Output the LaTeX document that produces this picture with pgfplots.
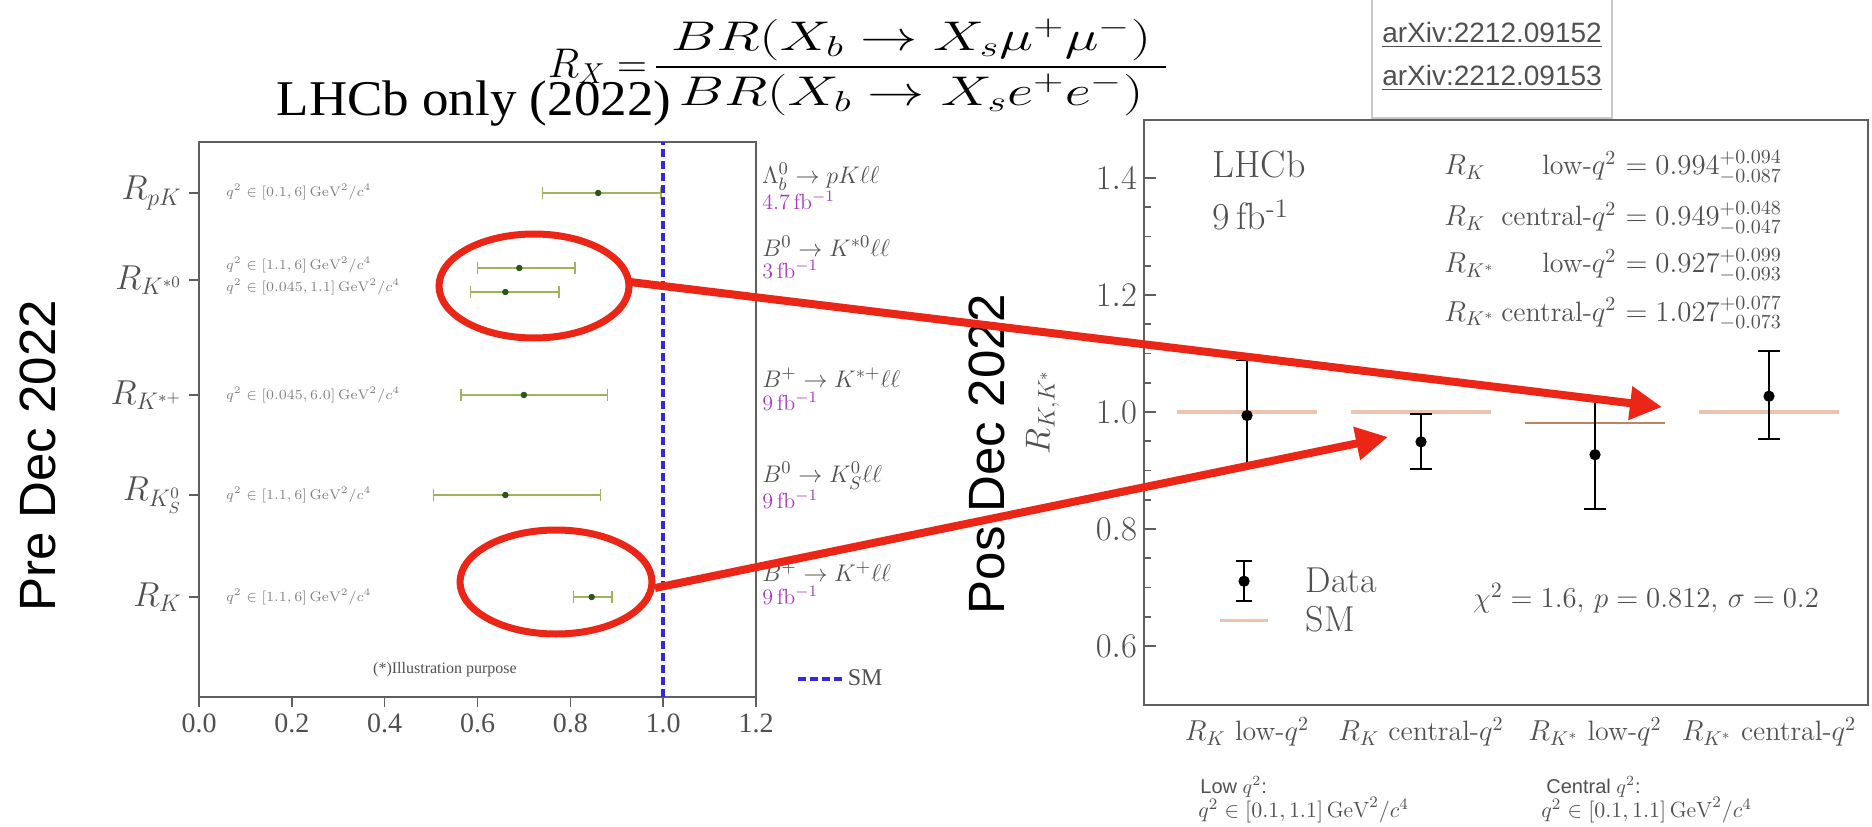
\documentclass[border=0pt]{standalone}
\usepackage{amsmath}
\usepackage{graphicx}
\usepackage{pgfplots}
\pgfplotsset{compat=1.18}
\usepackage{fontspec}
\newfontfamily\timesf{Liberation Serif}
\newfontfamily\sansf{Liberation Sans}
\usetikzlibrary{arrows.meta}
\definecolor{olivebar}{RGB}{160,178,90}
\definecolor{dkgreen}{RGB}{45,85,25}
\definecolor{smblue}{RGB}{50,40,220}
\definecolor{arrred}{RGB}{236,38,22}
\definecolor{smorange}{RGB}{234,196,172}
\definecolor{smdark}{RGB}{185,135,100}
\definecolor{purp}{RGB}{165,60,190}
\definecolor{axgray}{RGB}{95,95,95}
\definecolor{labgray}{RGB}{80,80,80}
\definecolor{boxgray}{RGB}{200,200,200}
\begin{document}
\begin{tikzpicture}[x=0.5pt,y=0.5pt]
\useasboundingbox (0,0) rectangle (1872,826);

% ---------------- left plot ----------------
\begin{axis}[
  at={(99.5pt,64.5pt)}, anchor=south west, scale only axis,
  width=278.5pt, height=277.5pt,
  xmin=0, xmax=1.2, ymin=0, ymax=5.55,
  clip=false,
  axis line style={draw=axgray, line width=1pt},
  xtick={0,0.2,0.4,0.6,0.8,1.0,1.2},
  /pgf/number format/fixed, /pgf/number format/fixed zerofill,
  /pgf/number format/precision=1, /pgf/number format/assume math mode=true,
  xticklabel style={font=\timesf\fontsize{14}{16}\selectfont, text=labgray},
  ytick={1.0,2.02,3.02,4.17,5.04},
  yticklabels={$R_K$,$R_{K_S^0}$,$R_{K^{*+}}$,$R_{K^{*0}}$,$R_{pK}$},
  yticklabel style={font=\fontsize{17}{20}\selectfont, text=labgray},
  tick align=outside, xtick pos=bottom, ytick pos=left,
  major tick length=5pt,
  tick style={draw=axgray, line width=0.8pt},
  legend style={at={(rel axis cs:1.06,0.032)}, anchor=west, draw=none, fill=none,
    font=\timesf\fontsize{12}{14}\selectfont, text=labgray},
  legend image code/.code={\draw[#1] (0pt,0pt) -- (22pt,0pt);},
]
\addplot[forget plot, only marks, mark=*, mark size=1.4pt, mark options={fill=dkgreen, draw=dkgreen},
  error bars/.cd, x dir=both, x explicit, error mark=|,
  error bar style={olivebar, line width=1pt},
  error mark options={olivebar, line width=0.8pt, mark size=3pt}]
  table[x=x, y=y, x error plus=ep, x error minus=em] {
x     y     ep     em
0.86  5.04  0.135  0.12
0.69  4.29  0.12   0.09
0.66  4.05  0.115  0.075
0.70  3.02  0.18   0.135
0.66  2.02  0.205  0.155
0.846 1.00  0.044  0.039
};
\addplot[smblue, line width=2pt, dash pattern=on 4pt off 2pt] coordinates {(1,0) (1,5.55)};
\addlegendentry{SM}
\end{axis}

% annotations in the left plot
\begin{scope}[every node/.style={anchor=west, text=gray, font=\fontsize{7}{8}\selectfont}]
\node at (219,634) {$q^2\in[0.1,6]\,\mathrm{GeV}^2/c^4$};
\node at (219,561) {$q^2\in[1.1,6]\,\mathrm{GeV}^2/c^4$};
\node at (219,539) {$q^2\in[0.045,1.1]\,\mathrm{GeV}^2/c^4$};
\node at (219,431) {$q^2\in[0.045,6.0]\,\mathrm{GeV}^2/c^4$};
\node at (219,331) {$q^2\in[1.1,6]\,\mathrm{GeV}^2/c^4$};
\node at (219,229) {$q^2\in[1.1,6]\,\mathrm{GeV}^2/c^4$};
\end{scope}
\node[text=labgray, font=\timesf\fontsize{8}{9}\selectfont] at (445,156) {(*)Illustration purpose};

\begin{scope}[every node/.style={anchor=west, inner sep=0pt}]
\node[text=labgray, font=\fontsize{13}{15}\selectfont] at (762,649) {$\Lambda_b^0\to pK\ell\ell$};
\node[text=purp, font=\fontsize{11}{13}\selectfont] at (762,625) {4.7\,fb$^{-1}$};
\node[text=labgray, font=\fontsize{13}{15}\selectfont] at (762,580) {$B^0\to K^{*0}\ell\ell$};
\node[text=purp, font=\fontsize{11}{13}\selectfont] at (762,556) {3\,fb$^{-1}$};
\node[text=labgray, font=\fontsize{13}{15}\selectfont] at (762,448) {$B^+\to K^{*+}\ell\ell$};
\node[text=purp, font=\fontsize{11}{13}\selectfont] at (762,424) {9\,fb$^{-1}$};
\node[text=labgray, font=\fontsize{13}{15}\selectfont] at (762,350) {$B^0\to K_S^0\ell\ell$};
\node[text=purp, font=\fontsize{11}{13}\selectfont] at (762,326) {9\,fb$^{-1}$};
\node[text=labgray, font=\fontsize{13}{15}\selectfont] at (762,254) {$B^+\to K^+\ell\ell$};
\node[text=purp, font=\fontsize{11}{13}\selectfont] at (762,230) {9\,fb$^{-1}$};
\end{scope}

\node[font=\timesf\fontsize{25}{30}\selectfont] at (474,722) {\scalebox{1.06}[1]{LHCb only (2022)}};
\node[rotate=90, font=\sansf\fontsize{25.5}{28}\selectfont] at (38,370) {Pre Dec 2022};

% formula
\node[anchor=east, font=\fontsize{21}{25}\selectfont] at (654,760) {$R_X=$};
\node[font=\fontsize{20}{24}\selectfont] at (911,786) {\scalebox{1.38}[1]{$BR(X_b\to X_s\mu^+\mu^-)$}};
\node[font=\fontsize{20}{24}\selectfont] at (911,731) {\scalebox{1.38}[1]{$BR(X_b\to X_s e^+e^-)$}};
\draw[black, line width=1.1pt] (656,759) -- (1166,759);

% arXiv box
\draw[boxgray, line width=0.8pt] (1372,830) -- (1372,708) -- (1612,708) -- (1612,830);
\node[text=labgray, font=\sansf\fontsize{14}{16}\selectfont] at (1492,791) {\underline{arXiv:2212.09152}};
\node[text=labgray, font=\sansf\fontsize{14}{16}\selectfont] at (1492,748) {\underline{arXiv:2212.09153}};

% ---------------- right plot ----------------
\begin{axis}[
  at={(572pt,60.75pt)}, anchor=south west, scale only axis,
  width=362pt, height=292.5pt,
  xmin=-0.592, xmax=3.569, ymin=0.5, ymax=1.5,
  axis line style={draw=axgray, line width=1pt},
  xtick={0,1,2,3},
  xticklabels={$R_K$ low-$q^2$, $R_K$ central-$q^2$, $R_{K^*}$ low-$q^2$, $R_{K^*}$ central-$q^2$},
  xticklabel style={font=\fontsize{14}{16}\selectfont, text=labgray, yshift=-3pt},
  xtick style={draw=none},
  ytick={0.6,0.8,1.0,1.2,1.4}, minor y tick num=3,
  yticklabel style={font=\fontsize{18}{20}\selectfont, text=labgray,
     /pgf/number format/fixed, /pgf/number format/fixed zerofill, /pgf/number format/precision=1},
  tick align=inside, ytick pos=left,
  major tick length=6pt, minor tick length=3.5pt,
  tick style={draw=axgray, line width=0.8pt},
  ylabel={$R_{K,K^*}$},
  ylabel style={at={(rel axis cs:-0.14,0.5)}, anchor=center, font=\fontsize{17}{20}\selectfont, text=labgray},
  legend style={at={(rel axis cs:0.094,0.254)}, anchor=north west, draw=none, fill=none,
     font=\fontsize{18}{20}\selectfont, text=labgray, row sep=0pt,
     /tikz/every odd column/.append style={column sep=16pt}},
  legend cell align=left,
]
\addplot[smorange, line width=1.6pt, forget plot] coordinates {(-0.405,1.0) (0.405,1.0)};
\addplot[smorange, line width=1.6pt, forget plot] coordinates {(0.595,1.0) (1.405,1.0)};
\addplot[smdark, line width=1.2pt, forget plot] coordinates {(1.595,0.981) (2.405,0.981)};
\addplot[smorange, line width=1.6pt, forget plot] coordinates {(2.595,1.0) (3.405,1.0)};
\addplot[only marks, mark=*, mark size=2.6pt, black,
  legend image code/.code={
    \draw[black, line width=0.9pt] (12pt,-10pt) -- (12pt,10pt);
    \draw[black, line width=0.9pt] (8pt,-10pt) -- (16pt,-10pt);
    \draw[black, line width=0.9pt] (8pt,10pt) -- (16pt,10pt);
    \fill[black] (12pt,0pt) circle (2.6pt);},
  error bars/.cd, y dir=both, y explicit, error mark=|,
  error bar style={black, line width=0.9pt},
  error mark options={black, line width=0.9pt, mark size=5.5pt}]
  table[x=x, y=y, y error plus=ep, y error minus=em] {
x  y      ep     em
0  0.994  0.094  0.087
1  0.949  0.048  0.047
2  0.927  0.099  0.093
3  1.027  0.077  0.073
};
\addlegendentry{Data}
\addlegendimage{legend image code/.code={\draw[smorange, line width=1.6pt] (0pt,0pt) -- (24pt,0pt);}}
\addlegendentry{SM}
\end{axis}

% right plot annotations
\node[anchor=west, inner sep=0pt, text=labgray, font=\fontsize{19}{22}\selectfont] at (1212,661) {LHCb};
\node[anchor=west, inner sep=0pt, text=labgray, font=\fontsize{19}{22}\selectfont] at (1212,611) {9\,fb$^{\text{-1}}$};
\begin{scope}[every node/.style={anchor=base west, inner sep=0pt, text=labgray, font=\fontsize{14}{16}\selectfont}]
\node at (1444,651) {\makebox[24pt][l]{$R_K$}\makebox[62pt][r]{low-$q^2$}\ $=0.994^{+0.094}_{-0.087}$};
\node at (1444,600) {\makebox[24pt][l]{$R_K$}\makebox[62pt][r]{central-$q^2$}\ $=0.949^{+0.048}_{-0.047}$};
\node at (1444,553) {\makebox[24pt][l]{$R_{K^*}$}\makebox[62pt][r]{low-$q^2$}\ $=0.927^{+0.099}_{-0.093}$};
\node at (1444,505) {\makebox[24pt][l]{$R_{K^*}$}\makebox[62pt][r]{central-$q^2$}\ $=1.027^{+0.077}_{-0.073}$};
\end{scope}
\node[text=labgray, font=\fontsize{15.5}{18}\selectfont] at (1646,228) {$\chi^2=1.6,\, p=0.812,\, \sigma=0.2$};

\node[rotate=90, font=\sansf\fontsize{25.5}{28}\selectfont] at (987,372) {Pos Dec 2022};

% bottom notes
\node[anchor=west, inner sep=0pt, text=labgray, font=\sansf\fontsize{10}{12}\selectfont] at (1200,39) {Low $q^2$:};
\node[anchor=west, inner sep=0pt, text=labgray, font=\fontsize{11}{13}\selectfont] at (1198,16) {$q^2\in[0.1,1.1]\,\mathrm{GeV}^2/c^4$};
\node[anchor=west, inner sep=0pt, text=labgray, font=\sansf\fontsize{10}{12}\selectfont] at (1546,39) {Central $q^2$:};
\node[anchor=west, inner sep=0pt, text=labgray, font=\fontsize{11}{13}\selectfont] at (1541,16) {$q^2\in[0.1,1.1]\,\mathrm{GeV}^2/c^4$};

% ellipses and arrows
\draw[arrred, line width=3.5pt] (534,540) ellipse [x radius=47.5pt, y radius=26pt];
\draw[arrred, line width=3.5pt] (556,244) ellipse [x radius=48pt, y radius=26pt];
\draw[arrred, line width=4pt, -{Triangle[length=16pt, width=16pt]}] (630,544) -- (1662,419);
\draw[arrred, line width=4pt, -{Triangle[length=16pt, width=16pt]}] (655,238) -- (1388,389);
\end{tikzpicture}
\end{document}
